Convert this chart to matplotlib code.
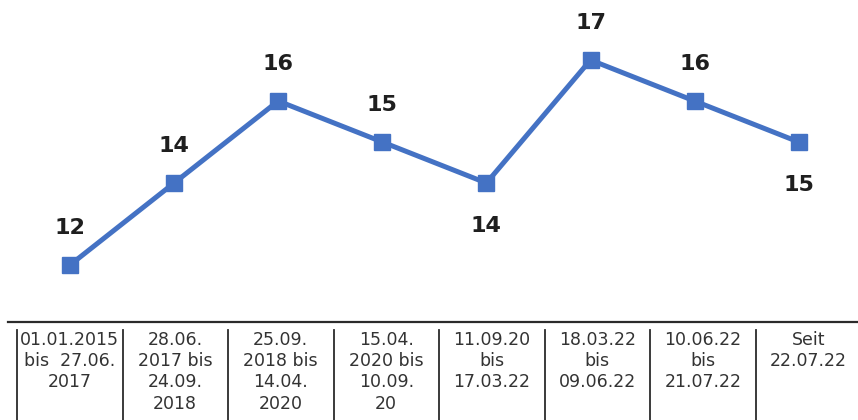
import matplotlib
matplotlib.use("Agg")
import matplotlib.pyplot as plt

# Zeiträume und Werte
periods = [
    "01.01.2015\nbis  27.06.\n2017",
    "28.06.\n2017 bis\n24.09.\n2018",
    "25.09.\n2018 bis\n14.04.\n2020",
    "15.04.\n2020 bis\n10.09.\n20",
    "11.09.20\nbis\n17.03.22",
    "18.03.22\nbis\n09.06.22",
    "10.06.22\nbis\n21.07.22",
    "Seit\n22.07.22",
]
values = [12, 14, 16, 15, 14, 17, 16, 15]
label_below = [False, False, False, False, True, False, False, True]

line_color = "#4472C4"
text_color = "#1f1f1f"

plt.rcParams["font.family"] = ["DejaVu Sans"]

fig = plt.figure(figsize=(8.58, 4.20), dpi=100)
W, H = 858, 420
ax_left, ax_right, ax_bottom_px = 8, 858, 322
ax = fig.add_axes([ax_left / W, 1 - ax_bottom_px / H, (ax_right - ax_left) / W, ax_bottom_px / H])

x = list(range(len(values)))
ax.plot(x, values, color=line_color, linewidth=3.6, marker="s",
        markersize=11, markerfacecolor=line_color, markeredgecolor=line_color,
        solid_joinstyle="miter", zorder=3)

for xi, v, below in zip(x, values, label_below):
    off_px = -42.5 if below else 37
    ax.annotate(str(v), (xi, v), xytext=(0, off_px * 0.72), textcoords="offset points",
                ha="center", va="center", fontsize=16, fontweight="bold",
                color=text_color)

# scales chosen so the points sit on an even grid
step = 104.1
x0_px = 70
ax.set_xlim((ax_left - x0_px) / step, (ax_right - x0_px) / step)
unit_px = 41.0
ax.set_ylim(12 - (ax_bottom_px - 265) / unit_px, 12 + 265 / unit_px)

for s in ["top", "right", "left"]:
    ax.spines[s].set_visible(False)
ax.spines["bottom"].set_color("#2b2b2b")
ax.spines["bottom"].set_linewidth(1.6)
ax.set_xticks([])
ax.set_yticks([])
ax.patch.set_alpha(0)

# category table below the axis
ax_w = ax_right - ax_left
cell0 = 17
cell_w = 105.5
y_top_line = -(330 - ax_bottom_px) / ax_bottom_px
y_bot_line = -(420 - ax_bottom_px) / ax_bottom_px
y_text = -(331 - ax_bottom_px) / ax_bottom_px
for i, label in enumerate(periods):
    left = (cell0 + i * cell_w - ax_left) / ax_w
    center = (cell0 + (i + 0.5) * cell_w - ax_left) / ax_w
    ax.plot([left, left], [y_top_line, y_bot_line], transform=ax.transAxes,
            color="#2b2b2b", linewidth=1.3, clip_on=False)
    ax.text(center, y_text, label, transform=ax.transAxes, ha="center", va="top",
            fontsize=12.5, color="#333333", linespacing=1.23, clip_on=False)

fig.savefig("out.png", dpi=100)
